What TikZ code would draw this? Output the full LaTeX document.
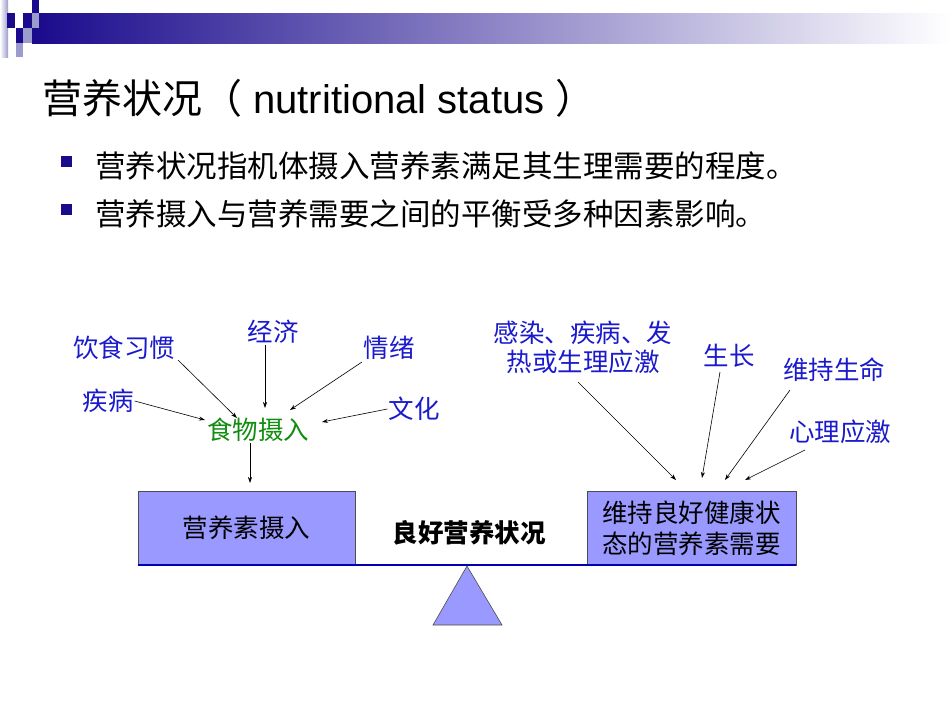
\documentclass[tikz,border=0pt]{standalone}
\usepackage{fontspec}
\usetikzlibrary{arrows.meta}
\setmainfont{Liberation Sans}
\newfontfamily\cjk{Noto Sans CJK SC}
\definecolor{dk}{HTML}{1A0A8C}
\definecolor{lt}{HTML}{9C9CCC}
\definecolor{boxc}{HTML}{9999FF}
\definecolor{lbl}{HTML}{1A1ACC}
\definecolor{grn}{HTML}{108C10}
\begin{document}
\begin{tikzpicture}[x=1pt,y=-1pt,
  lab/.style={font=\cjk\fontsize{25.5}{29}\selectfont,text=lbl,inner sep=1pt,align=center},
  arr/.style={-{Stealth[length=6pt,width=4pt]},black,line width=0.6pt},
  bx/.style={draw=black!70,fill=boxc,line width=0.6pt,font=\cjk\fontsize{25.5}{31}\selectfont,align=center}]
\useasboundingbox (0,0) rectangle (950,713);
% header decoration
\shade[left color=dk,right color=white] (32,13) rectangle (950,43);
\shade[left color=white,right color=lt] (0,0) rectangle (8,57);
\fill[dk] (7,13) rectangle (15,28);
\fill[dk] (23,13) rectangle (32,28);
\fill[lt] (32,13) rectangle (39,28);
\fill[dk] (32,0) rectangle (39,13);
\fill[dk] (16,28) rectangle (23,43);
\fill[lt] (23,28) rectangle (32,43);
\fill[lt] (16,43) rectangle (23,57);
% title
\node[anchor=base west,inner sep=0] (title) at (42,113) {\fontsize{40}{46}\selectfont{\cjk 营养状况（} nutritional status {\cjk ）}};
\fill[dk] (61,156) rectangle (72,167);
\fill[dk] (61,204) rectangle (72,215);
\node[anchor=base west,inner sep=0] (b1) at (95,177) {\cjk\fontsize{30.5}{34}\selectfont 营养状况指机体摄入营养素满足其生理需要的程度。};
\node[anchor=base west,inner sep=0] (b2) at (95,225) {\cjk\fontsize{30.5}{34}\selectfont 营养摄入与营养需要之间的平衡受多种因素影响。};
% left labels
\node[lab] (yin) at (124,348) {饮食习惯};
\node[lab] (jing) at (273,332) {经济};
\node[lab] (qing) at (389,348) {情绪};
\node[lab] (ji) at (108,401) {疾病};
\node[lab] (wen) at (414,409) {文化};
\node[lab,text=grn] (food) at (258,430) {食物摄入};
\coordinate (t1) at (237,418);
\coordinate (t2) at (265,408);
\coordinate (t3) at (290,410);
\coordinate (t4) at (205,420);
\coordinate (t5) at (322,422);
\draw[arr] (178,360) -- (t1);
\draw[arr] (jing.south -| t2) -- (t2);
\draw[arr] (362,362) -- (t3);
\draw[arr] (ji.east) -- (t4);
\draw[arr] (wen.west) -- (t5);
% boxes
\node[bx,minimum width=217pt,minimum height=74pt] (intake) at (246.5,528) {营养素摄入};
\node[bx,minimum width=209pt,minimum height=74pt,inner sep=1pt] (need) at (691.5,528) {维持良好健康状\\态的营养素需要};
\draw[arr] (food.south -| 250,0) -- (250,483);
\node[font=\cjk\bfseries\fontsize{25.5}{30}\selectfont,inner sep=0] (good) at (469,533) {良好营养状况};
% right labels
\node[lab] (gan) at (583,347) {感染、疾病、发\\热或生理应激};
\node[lab] (sheng) at (729,356) {生长};
\node[lab] (wei) at (834,370) {维持生命};
\node[lab] (xin) at (840,432) {心理应激};
\coordinate (r1) at (676,480);
\coordinate (r2) at (702,478);
\coordinate (r3) at (725,480);
\coordinate (r4) at (745,480);
\draw[arr] (578,382) -- (r1);
\draw[arr] (720,372) -- (r2);
\draw[arr] (790,390) -- (r3);
\draw[arr] (805,450) -- (r4);
% beam and fulcrum
\draw[blue!70!black,line width=2pt] (intake.south west) -- (need.south east);
\draw[black!70,fill=boxc,line width=0.6pt] (467,566) -- (502,625) -- (433,625) -- cycle;
\end{tikzpicture}
\end{document}
